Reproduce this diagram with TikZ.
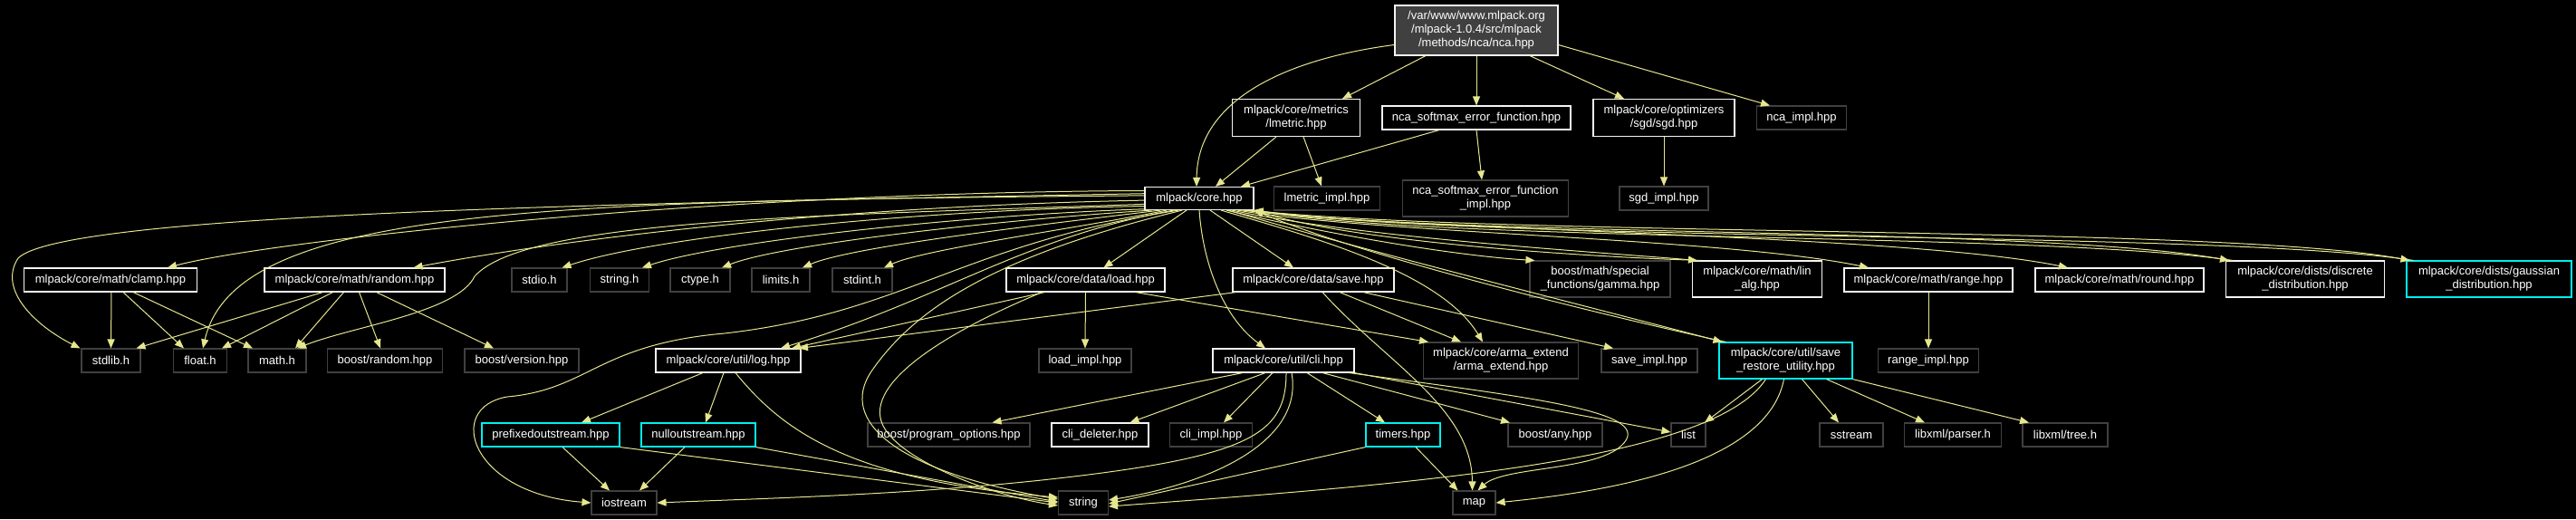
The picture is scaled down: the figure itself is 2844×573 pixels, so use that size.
\documentclass[tikz,border=0pt]{standalone}
\usepackage{fontspec}
\setmainfont{Liberation Sans}
\usetikzlibrary{arrows.meta}
\definecolor{edgec}{RGB}{230,230,143}
\definecolor{undocc}{RGB}{64,64,64}
\definecolor{docc}{RGB}{245,245,245}
\definecolor{cyanc}{RGB}{0,240,240}
\definecolor{rootfill}{RGB}{64,64,64}
\begin{document}
\begin{tikzpicture}[x=1pt,y=-1pt,
  nd/.style={rectangle,inner sep=0pt,text=white,font=\fontsize{13}{15}\selectfont,align=center,line width=1.1pt},
  doc/.style={nd,draw=docc},
  undoc/.style={nd,draw=undocc},
  cyanbox/.style={nd,draw=cyanc},
  rootbox/.style={nd,draw=docc,fill=rootfill},
  sz/.style 2 args={minimum width=#1pt,minimum height=#2pt},
  edge/.style={draw=edgec,line width=1pt,-{Triangle[length=10pt,width=8pt]}}]
\useasboundingbox (0,0) rectangle (2844,573);
\fill[black] (0,0) rectangle (2844,573);

% nodes
\node[rootbox,sz={180}{55}] (root) at (1630,33.5) {/var/www/www.mlpack.org\\/mlpack-1.0.4/src/mlpack\\/methods/nca/nca.hpp};
\node[doc,sz={141}{41}] (lmetric) at (1431,130) {mlpack/core/metrics\\/lmetric.hpp};
\node[doc,sz={208}{26}] (ncasoft) at (1630,130) {nca\_softmax\_error\_function.hpp};
\node[doc,sz={156}{41}] (sgd) at (1837,130) {mlpack/core/optimizers\\/sgd/sgd.hpp};
\node[undoc,sz={99}{26}] (ncaimpl) at (1989,130) {nca\_impl.hpp};
\node[doc,sz={120}{25}] (core) at (1324,219) {mlpack/core.hpp};
\node[undoc,sz={117}{26}] (lmimpl) at (1465,219) {lmetric\_impl.hpp};
\node[undoc,sz={183}{40}] (ncasoftimpl) at (1640,219) {nca\_softmax\_error\_function\\\_impl.hpp};
\node[undoc,sz={98}{26}] (sgdimpl) at (1837,219) {sgd\_impl.hpp};

\node[doc,sz={191}{26}] (clamp) at (122,309) {mlpack/core/math/clamp.hpp};
\node[doc,sz={199}{26}] (random) at (391.5,309) {mlpack/core/math/random.hpp};
\node[undoc,sz={61}{26}] (stdio) at (595.5,309) {stdio.h};
\node[undoc,sz={65}{26}] (stringh) at (684,309) {string.h};
\node[undoc,sz={66}{26}] (ctype) at (773,309) {ctype.h};
\node[undoc,sz={64}{26}] (limits) at (862,309) {limits.h};
\node[undoc,sz={66}{26}] (stdint) at (952,309) {stdint.h};
\node[doc,sz={175}{26}] (load) at (1198.5,309) {mlpack/core/data/load.hpp};
\node[doc,sz={178}{26}] (save) at (1450,309) {mlpack/core/data/save.hpp};
\node[undoc,sz={155}{40}] (gamma) at (1766.5,308) {boost/math/special\\\_functions/gamma.hpp};
\node[doc,sz={143}{40}] (linalg) at (1940,308) {mlpack/core/math/lin\\\_alg.hpp};
\node[doc,sz={186}{26}] (range) at (2129,309) {mlpack/core/math/range.hpp};
\node[doc,sz={186}{26}] (round) at (2340,309) {mlpack/core/math/round.hpp};
\node[doc,sz={175}{40}] (discrete) at (2545,308) {mlpack/core/dists/discrete\\\_distribution.hpp};
\node[cyanbox,sz={182}{40}] (gaussian) at (2748,308) {mlpack/core/dists/gaussian\\\_distribution.hpp};

\node[undoc,sz={65}{26}] (stdlib) at (122.5,398) {stdlib.h};
\node[undoc,sz={59}{26}] (float) at (221,398) {float.h};
\node[undoc,sz={64}{26}] (math) at (306,398) {math.h};
\node[undoc,sz={127}{26}] (brandom) at (425,398) {boost/random.hpp};
\node[undoc,sz={126}{26}] (bversion) at (576,398) {boost/version.hpp};
\node[doc,sz={160}{26}] (log) at (804,398) {mlpack/core/util/log.hpp};
\node[undoc,sz={102}{26}] (loadimpl) at (1198,398) {load\_impl.hpp};
\node[doc,sz={156}{26}] (cli) at (1417,398) {mlpack/core/util/cli.hpp};
\node[undoc,sz={171}{40}] (arma) at (1657,398) {mlpack/core/arma\_extend\\/arma\_extend.hpp};
\node[undoc,sz={106}{26}] (saveimpl) at (1821,398) {save\_impl.hpp};
\node[cyanbox,sz={147}{40}] (saverestore) at (1971.5,398) {mlpack/core/util/save\\\_restore\_utility.hpp};
\node[undoc,sz={111}{26}] (rangeimpl) at (2129,398) {range\_impl.hpp};

\node[cyanbox,sz={152}{26}] (prefixed) at (608,480) {prefixedoutstream.hpp};
\node[cyanbox,sz={126}{26}] (nullout) at (771,480) {nulloutstream.hpp};
\node[undoc,sz={179}{26}] (progopt) at (1047.5,480) {boost/program\_options.hpp};
\node[doc,sz={107}{26}] (clideleter) at (1214.5,480) {cli\_deleter.hpp};
\node[undoc,sz={91}{26}] (cliimpl) at (1337,480) {cli\_impl.hpp};
\node[cyanbox,sz={82}{26}] (timers) at (1549,480) {timers.hpp};
\node[undoc,sz={104}{26}] (bany) at (1717,480) {boost/any.hpp};
\node[undoc,sz={38}{26}] (list) at (1864,480) {list};
\node[undoc,sz={70}{26}] (sstream) at (2044,480) {sstream};
\node[undoc,sz={107}{26}] (parser) at (2156,480) {libxml/parser.h};
\node[undoc,sz={94}{26}] (tree) at (2280,480) {libxml/tree.h};

\node[undoc,sz={72}{26}] (iostream) at (689,555) {iostream};
\node[undoc,sz={55}{26}] (string) at (1196,555) {string};
\node[undoc,sz={47}{26}] (map) at (1627.5,555) {map};

% edges from root
\draw[edge] (root.190) .. controls (1420,65) and (1322,110) .. ([xshift=-3pt]core.north);
\draw[edge] ([xshift=-56pt]root.south) -- ([xshift=51pt]lmetric.north);
\draw[edge] (root.south) -- (ncasoft.north);
\draw[edge] ([xshift=59pt]root.south) -- ([xshift=-44pt]sgd.north);
\draw[edge] (root.350) -- ([xshift=-35pt]ncaimpl.north);
\draw[edge] ([xshift=-22pt]lmetric.south) -- ([xshift=18pt]core.north);
\draw[edge] ([xshift=8pt]lmetric.south) -- ([xshift=-6pt]lmimpl.north);
\draw[edge] ([xshift=-41pt]ncasoft.south) -- ([xshift=46pt]core.north);
\draw[edge] (ncasoft.south) -- ([xshift=-4pt]ncasoftimpl.north);
\draw[edge] (sgd.south) -- (sgdimpl.north);

% core to the left
\draw[edge] (core.175) .. controls (700,224) and (70,235) .. (20,285) .. controls (-3,320) and (40,360) .. ([xshift=-34pt]stdlib.north);
\draw[edge] (core.177) .. controls (600,222) and (260,228) .. ([xshift=3pt]float.north);
\draw[edge] (core.186) .. controls (900,238) and (580,242) .. (524,305) .. controls (505,345) and (390,360) .. ([xshift=22pt]math.north);
\draw[edge] (core.172) .. controls (800,212) and (300,265) .. ([xshift=63pt]clamp.north);
\draw[edge] (core.182) .. controls (900,228) and (600,268) .. ([xshift=65pt]random.north);
\draw[edge] (core.188) .. controls (1000,232) and (720,262) .. ([xshift=25pt]stdio.north);
\draw[edge] (core.191) .. controls (1050,238) and (790,268) .. ([xshift=25pt]stringh.north);
\draw[edge] (core.194) .. controls (1100,243) and (860,270) .. ([xshift=24pt]ctype.north);
\draw[edge] (core.197) .. controls (1150,248) and (940,272) .. ([xshift=24pt]limits.north);
\draw[edge] (core.200) .. controls (1190,252) and (1020,275) .. ([xshift=24pt]stdint.north);
\draw[edge] (core.205) .. controls (1130,262) and (1040,330) .. ([xshift=58pt]log.north);
\draw[edge] (core.210) .. controls (1060,270) and (1000,345) .. (800,368) .. controls (660,380) and (650,430) .. (560,438) .. controls (490,450) and (520,545) .. (iostream.west);
\draw[edge] (core.215) .. controls (1100,282) and (1010,340) .. (962,410) .. controls (925,465) and (990,520) .. ([yshift=4pt]string.west);
\draw[edge] ([xshift=-14pt]core.south) -- ([xshift=20pt]load.north);
\draw[edge] (core.south) .. controls (1328,290) and (1350,350) .. ([xshift=-20pt]cli.north);
\draw[edge] ([xshift=12pt]core.south) -- ([xshift=-22pt]save.north);

% core to the right
\draw[edge] ([xshift=24pt]core.south) .. controls (1450,262) and (1590,300) .. ([xshift=-20pt]arma.north);
\draw[edge] ([xshift=30pt]core.south) .. controls (1450,255) and (1600,282) .. ([xshift=6pt]gamma.north west);
\draw[edge] ([xshift=36pt]core.south) .. controls (1500,262) and (1760,278) .. ([xshift=6pt]linalg.north west);
\draw[edge] ([xshift=42pt]core.south) .. controls (1520,258) and (1900,262) .. ([xshift=-66pt]range.north);
\draw[edge] ([xshift=48pt]core.south) .. controls (1550,255) and (2100,258) .. ([xshift=-57pt]round.north);
\draw[edge] ([xshift=52pt]core.south) .. controls (1600,262) and (2250,250) .. ([xshift=4pt]discrete.north west);
\draw[edge] ([xshift=56pt]core.south) .. controls (1650,262) and (2450,248) .. ([xshift=4pt]gaussian.north west);
\draw[edge] ([xshift=32pt]core.south) .. controls (1500,275) and (1760,340) .. ([xshift=4pt]saverestore.north west);
% back edges to core
\draw[edge] ([xshift=10pt]linalg.north west) .. controls (1760,284) and (1500,268) .. (core.south east);
\draw[edge] ([xshift=8pt]discrete.north west) .. controls (2250,256) and (1600,268) .. (core.south east);
\draw[edge] ([xshift=8pt]gaussian.north west) .. controls (2450,254) and (1650,268) .. (core.south east);
\draw[edge] ([xshift=8pt]saverestore.north west) .. controls (1760,346) and (1500,281) .. (core.south east);

% clamp, random
\draw[edge] ([xshift=1pt]clamp.south) -- (stdlib.north);
\draw[edge] ([xshift=14pt]clamp.south) -- ([xshift=-18pt]float.north);
\draw[edge] ([xshift=25pt]clamp.south) -- ([xshift=-27pt]math.north);
\draw[edge] ([xshift=-35pt]random.south) -- ([xshift=28pt]stdlib.north);
\draw[edge] ([xshift=-24pt]random.south) -- ([xshift=24pt]float.north);
\draw[edge] ([xshift=-12pt]random.south) -- ([xshift=20pt]math.north);
\draw[edge] ([xshift=5pt]random.south) -- ([xshift=-5pt]brandom.north);
\draw[edge] ([xshift=24pt]random.south) -- ([xshift=-31pt]bversion.north);

% load, save
\draw[edge] ([xshift=-45pt]load.south) -- ([xshift=70pt]log.north);
\draw[edge] ([xshift=-48pt]load.south) .. controls (1060,360) and (950,420) .. (975,470) .. controls (995,510) and (1100,548) .. ([yshift=-3pt]string.west);
\draw[edge] (load.south) -- (loadimpl.north);
\draw[edge] ([xshift=55pt]load.south) -- ([xshift=-80pt]arma.north);
\draw[edge] ([xshift=-85pt]save.south) -- ([xshift=78pt]log.north);
\draw[edge] ([xshift=29pt]save.south) -- ([xshift=-44pt]arma.north);
\draw[edge] ([xshift=55pt]save.south) -- ([xshift=-40pt]saveimpl.north);
\draw[edge] ([xshift=10pt]save.south) .. controls (1530,400) and (1625,450) .. ([xshift=-2pt]map.north);

% log and streams
\draw[edge] ([xshift=-28pt]log.south) -- ([xshift=34pt]prefixed.north);
\draw[edge] ([xshift=-5pt]log.south) -- ([xshift=8pt]nullout.north);
\draw[edge] ([xshift=8pt]log.south) .. controls (860,470) and (930,530) .. ([yshift=6pt]string.west);
\draw[edge] ([xshift=13pt]prefixed.south) -- ([xshift=-16pt]iostream.north);
\draw[edge] (prefixed.south east) -- (string.west);
\draw[edge] ([xshift=-15pt]nullout.south) -- ([xshift=17pt]iostream.north);
\draw[edge] (nullout.south east) -- ([yshift=1pt]string.west);

% cli
\draw[edge] ([xshift=-45pt]cli.south) -- ([xshift=48pt]progopt.north);
\draw[edge] ([xshift=-20pt]cli.south) -- ([xshift=33pt]clideleter.north);
\draw[edge] ([xshift=-12pt]cli.south) -- ([xshift=14pt]cliimpl.north);
\draw[edge] ([xshift=26pt]cli.south) -- ([xshift=-20pt]timers.north);
\draw[edge] ([xshift=43pt]cli.south) -- ([xshift=-50pt]bany.north);
\draw[edge] (cli.south east) -- ([yshift=3pt]list.west);
\draw[edge] ([xshift=3pt]cli.south) .. controls (1420,480) and (1380,505) .. (1150,530) .. controls (1000,546) and (850,550) .. (iostream.east);
\draw[edge] ([xshift=9pt]cli.south) .. controls (1440,490) and (1330,535) .. ([yshift=3pt]string.east);
\draw[edge] ([xshift=-6pt]cli.south east) .. controls (1700,440) and (1830,455) .. (1790,492) .. controls (1760,520) and (1660,515) .. ([xshift=4pt]map.north);

% timers
\draw[edge] ([xshift=14pt]timers.south) -- ([xshift=-18pt]map.north);
\draw[edge] (timers.south west) -- ([yshift=-1pt]string.east);

% save restore utility
\draw[edge] ([xshift=-26pt]saverestore.south) -- ([xshift=18pt]list.north);
\draw[edge] ([xshift=-22pt]saverestore.south) .. controls (1890,510) and (1550,535) .. ([yshift=-4pt]string.east);
\draw[edge] ([xshift=-2pt]saverestore.south) .. controls (1950,520) and (1750,545) .. (map.east);
\draw[edge] ([xshift=18pt]saverestore.south) -- ([xshift=-14pt]sstream.north);
\draw[edge] ([xshift=45pt]saverestore.south) -- ([xshift=-31pt]parser.north);
\draw[edge] (saverestore.south east) -- ([xshift=-40pt]tree.north);

% range
\draw[edge] (range.south) -- (rangeimpl.north);
\end{tikzpicture}
\end{document}
